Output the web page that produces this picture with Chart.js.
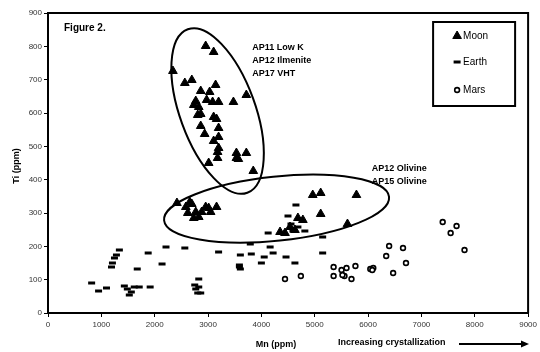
<!DOCTYPE html>
<html>
<head>
<meta charset="utf-8">
<script src="https://cdn.jsdelivr.net/npm/chart.js@4/dist/chart.umd.min.js"></script>
<style>
  html, body { margin: 0; padding: 0; background: #fff; }
  canvas { display: block; }
</style>
</head>
<body>
<canvas id="c" width="540" height="352"></canvas>
<script>
// Mn (ppm) vs Ti (ppm) for olivine from lunar, terrestrial and martian basalts
const seriesNames = ['Moon', 'Earth', 'Mars'];

const moonMn = [2956, 3105, 2342, 2565, 2696, 2863, 3030, 3142, 3718, 3476, 2770, 2733, 2826, 2974,
  3086, 3198, 2863, 3105, 3160, 2807, 2863, 3198, 2937, 3198, 3105, 3198, 3179, 3532, 3532, 3718,
  3012, 3179, 3569, 3848,
  2417, 2658, 2584, 2696, 2621, 2770, 2826, 2733, 2956, 3012, 2881, 3049, 3160,
  4963, 5112, 5782, 5112, 5614, 4685, 4778, 4536, 4443, 4350, 4629];
const moonTi = [801, 783, 726, 690, 699, 666, 663, 684, 654, 633, 636, 624, 618, 639,
  633, 633, 597, 588, 582, 594, 561, 555, 537, 528, 516, 495, 483, 480, 465, 480,
  450, 465, 462, 426,
  330, 333, 318, 327, 300, 303, 288, 285, 318, 315, 303, 303, 318,
  354, 360, 354, 297, 267, 285, 279, 258, 240, 243, 249];

const earthMn = [818, 948, 1097, 1190, 1208, 1246, 1283, 1338, 1431, 1487, 1562, 1524, 1617, 1710,
  1915, 1673, 1878, 2138, 2212, 2565, 2751, 2770, 2807, 3198, 2826, 2826, 2863, 3792, 3606, 3588,
  3606, 3588, 3811, 4000, 4053, 4164, 4220, 4462, 4629, 4648, 4499, 4555, 4685, 4592, 4815, 4127,
  5149, 5149];
const earthTi = [90, 66, 75, 138, 150, 165, 174, 189, 81, 72, 63, 54, 78, 78,
  78, 132, 180, 147, 198, 195, 84, 72, 60, 183, 102, 78, 60, 207, 174, 144,
  132, 138, 177, 150, 168, 198, 180, 168, 150, 324, 291, 267, 258, 246, 246, 240,
  228, 180];

const marsMn = [4443, 4740, 5354, 5354, 5503, 5596, 5558, 5520, 5689, 5763, 6042, 6098, 6079,
  6340, 6395, 6655, 6711, 6470, 7399, 7659, 7548, 7808];
const marsTi = [102, 111, 138, 111, 129, 135, 111, 114, 102, 141, 132, 135, 129,
  171, 201, 195, 150, 120, 273, 261, 240, 189];

const xTickValues = [0, 1000, 2000, 3000, 4000, 5000, 6000, 7000, 8000, 9000];
const yTickValues = [0, 100, 200, 300, 400, 500, 600, 700, 800, 900];

const toPoints = (xs, ys) => xs.map((v, i) => ({ x: v, y: ys[i] }));

// Grouping outlines (centre in data units, semi-axes in data units, tilt in degrees)
const groupOutlines = [
  { cx: 3179, cy: 606, rx: 706, ry: 261, tilt: -20 },
  { cx: 4285, cy: 313, rx: 2120, ry: 96, tilt: -6 }
];

// Group labels anchored in data units
const groupLabels = [
  { x: 3830, y: 795, lines: ['AP11 Low K', 'AP12 Ilmenite', 'AP17 VHT'] },
  { x: 6070, y: 432, lines: ['AP12 Olivine', 'AP15 Olivine'] }
];

const FONT = '"Liberation Sans", Arial, sans-serif';

const decorations = {
  id: 'decorations',
  beforeDatasetsDraw(chart) {
    const { ctx, scales: { x, y } } = chart;
    ctx.save();
    ctx.strokeStyle = '#000';
    ctx.lineWidth = 2;
    groupOutlines.forEach(e => {
      const px = x.getPixelForValue(e.cx), py = y.getPixelForValue(e.cy);
      const rx = Math.abs(x.getPixelForValue(e.cx + e.rx) - px);
      const ry = Math.abs(y.getPixelForValue(e.cy + e.ry) - py);
      ctx.beginPath();
      ctx.ellipse(px, py, rx, ry, e.tilt * Math.PI / 180, 0, Math.PI * 2);
      ctx.stroke();
    });
    ctx.restore();
  },
  afterDraw(chart) {
    const { ctx, chartArea: a, scales: { x, y } } = chart;
    ctx.save();
    // top and right frame of the plot
    ctx.strokeStyle = '#000';
    ctx.lineWidth = 2;
    ctx.beginPath();
    ctx.moveTo(a.left, a.top);
    ctx.lineTo(a.right, a.top);
    ctx.lineTo(a.right, a.bottom);
    ctx.stroke();

    ctx.fillStyle = '#000';
    ctx.textBaseline = 'middle';
    ctx.textAlign = 'left';
    ctx.font = 'bold 10px ' + FONT;
    ctx.fillText('Figure 2.', a.left + 16, a.top + 15);

    ctx.font = 'bold 9px ' + FONT;
    groupLabels.forEach(g => {
      const px = x.getPixelForValue(g.x), py = y.getPixelForValue(g.y);
      g.lines.forEach((t, i) => ctx.fillText(t, px, py + i * 13));
    });

    // axis titles
    ctx.textAlign = 'center';
    ctx.fillText('Mn (ppm)', 276, 345);
    ctx.save();
    ctx.translate(17, 166);
    ctx.rotate(-Math.PI / 2);
    ctx.fillText('Ti (ppm)', 0, 0);
    ctx.restore();

    ctx.textAlign = 'left';
    ctx.fillText('Increasing crystallization', 338, 343);
    ctx.lineWidth = 2;
    ctx.beginPath();
    ctx.moveTo(459, 344);
    ctx.lineTo(523, 344);
    ctx.stroke();
    ctx.beginPath();
    ctx.moveTo(529, 344);
    ctx.lineTo(521, 340.5);
    ctx.lineTo(521, 347.5);
    ctx.closePath();
    ctx.fill();

    // legend box
    const bx = a.right - 95, by = a.top + 9, bw = 82, bh = 84;
    ctx.fillStyle = '#fff';
    ctx.fillRect(bx, by, bw, bh);
    ctx.strokeStyle = '#000';
    ctx.lineWidth = 2;
    ctx.strokeRect(bx, by, bw, bh);
    ctx.font = '10px ' + FONT;
    const rowY = [by + 14, by + 40, by + 68];
    chart.data.datasets.forEach((ds, i) => {
      const mx = bx + 24, my = rowY[i];
      ctx.fillStyle = ds.backgroundColor;
      ctx.strokeStyle = ds.borderColor;
      ctx.lineWidth = ds.borderWidth;
      Chart.helpers.drawPoint(ctx, {
        pointStyle: ds.pointStyle, radius: ds.pointRadius, borderWidth: ds.borderWidth, rotation: 0
      }, mx, my);
      ctx.fillStyle = '#000';
      ctx.fillText(ds.label, mx + 6, my + 0.5);
    });
    ctx.restore();
  }
};

new Chart(document.getElementById('c'), {
  type: 'scatter',
  data: {
    datasets: [
      { label: seriesNames[0], data: toPoints(moonMn, moonTi), pointStyle: 'triangle',
        pointRadius: 5, backgroundColor: '#000', borderColor: '#000', borderWidth: 1 },
      { label: seriesNames[1], data: toPoints(earthMn, earthTi), pointStyle: 'line',
        pointRadius: 3.5, backgroundColor: '#000', borderColor: '#000', borderWidth: 3 },
      { label: seriesNames[2], data: toPoints(marsMn, marsTi), pointStyle: 'circle',
        pointRadius: 2.4, backgroundColor: '#fff', borderColor: '#000', borderWidth: 1.6 }
    ]
  },
  options: {
    responsive: false,
    animation: false,
    devicePixelRatio: 1,
    layout: { padding: { top: 13, right: 8, left: 0, bottom: 0 } },
    plugins: { legend: { display: false }, tooltip: { enabled: false } },
    elements: { point: { hoverRadius: 4 } },
    scales: {
      x: {
        type: 'linear', min: 0, max: 9000,
        afterBuildTicks: s => { s.ticks = xTickValues.map(v => ({ value: v })); },
        afterFit: s => { s.height = 39; },
        grid: { drawOnChartArea: false, tickLength: 4, tickColor: '#000', tickWidth: 1 },
        border: { color: '#000', width: 2 },
        ticks: { color: '#333', font: { family: FONT, size: 8 }, padding: 3, maxRotation: 0,
          callback: v => String(v) }
      },
      y: {
        type: 'linear', min: 0, max: 900,
        afterBuildTicks: s => { s.ticks = yTickValues.map(v => ({ value: v })); },
        afterFit: s => { s.width = 48; },
        grid: { drawOnChartArea: false, tickLength: 4, tickColor: '#000', tickWidth: 1 },
        border: { color: '#000', width: 2 },
        ticks: { color: '#333', font: { family: FONT, size: 8 }, padding: 2,
          callback: v => String(v) }
      }
    }
  },
  plugins: [decorations]
});
</script>
</body>
</html>
